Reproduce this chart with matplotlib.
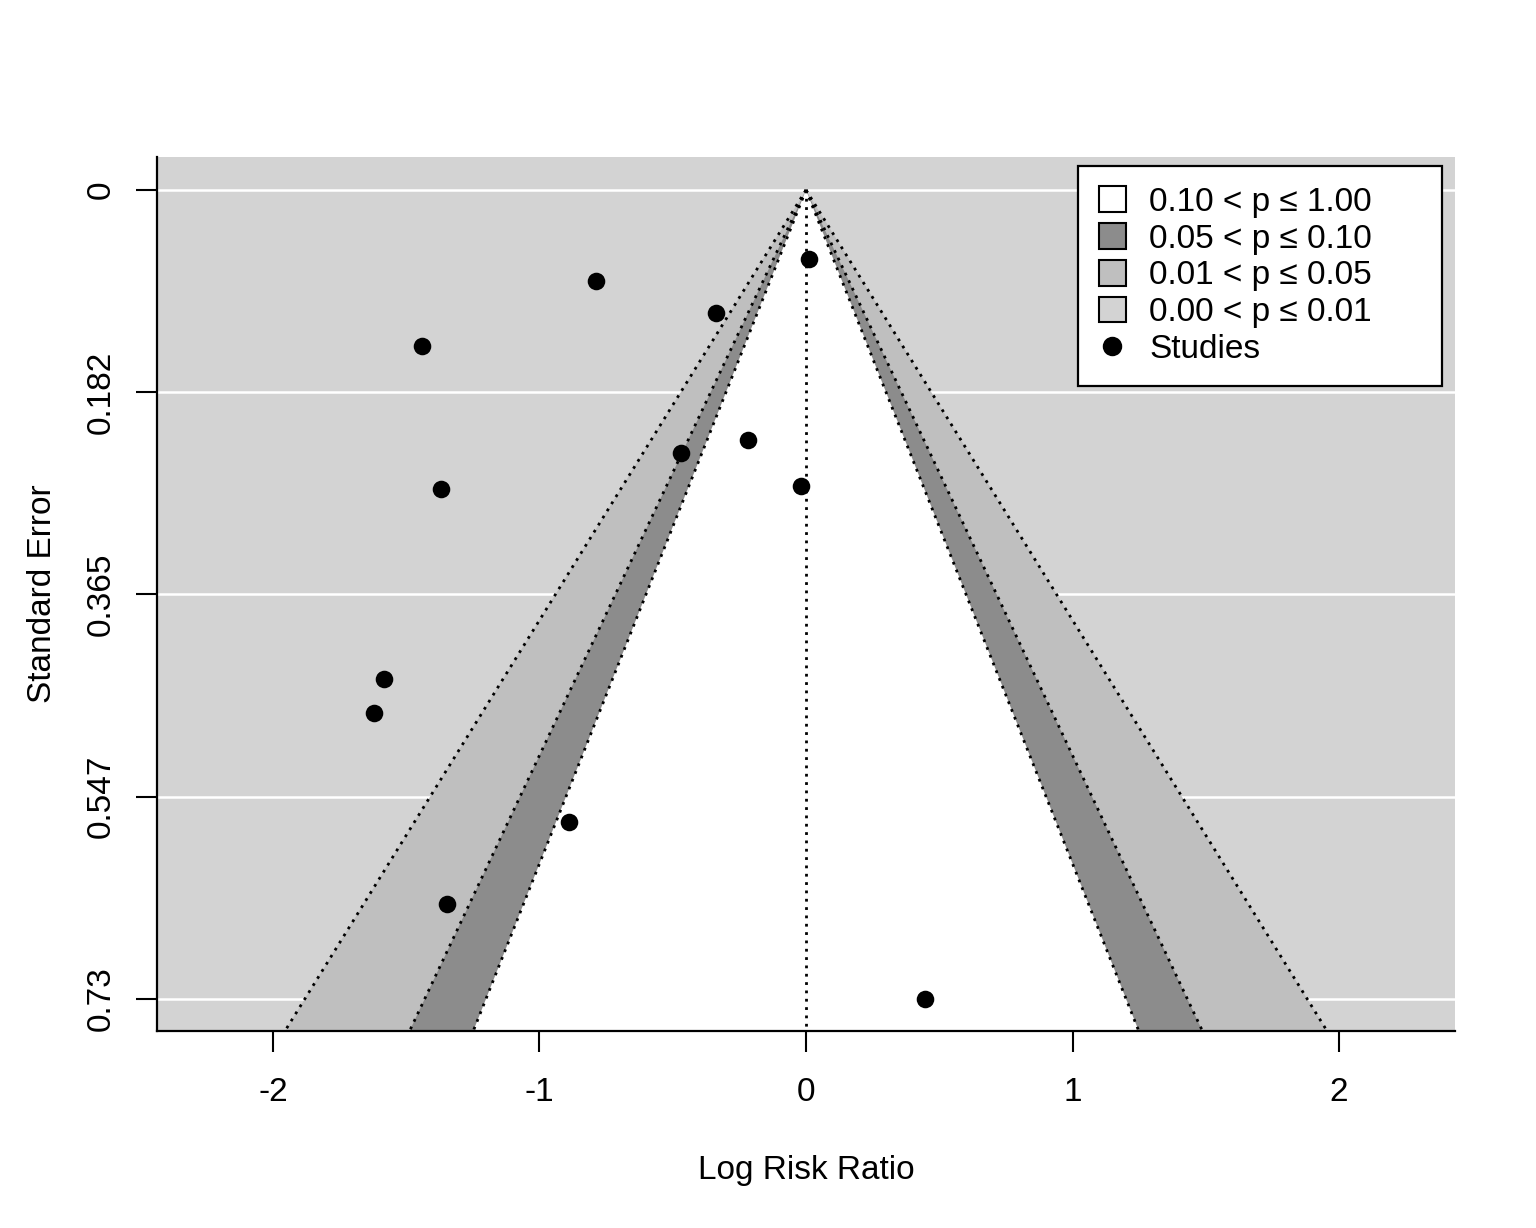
import numpy as np
import matplotlib
matplotlib.use("Agg")
import matplotlib.pyplot as plt
from matplotlib.patches import Patch, Polygon
from matplotlib.lines import Line2D

plt.rcParams['font.family'] = ['Liberation Sans', 'DejaVu Sans']

# ---- datos ----
yi = [0.011, -0.788, -0.338, -1.441, -0.218, -0.469, -1.370, -0.019,
      -1.583, -1.621, -0.889, -1.347, 0.447]
sei = [0.062, 0.082, 0.111, 0.141, 0.226, 0.237, 0.270, 0.267,
       0.441, 0.472, 0.570, 0.644, 0.730]
YTICKS = [0, 0.18245, 0.3649, 0.54735, 0.7298]
YTICKLABELS = ["0", "0.182", "0.365", "0.547", "0.73"]
XTICKS = [-2, -1, 0, 1, 2]
Z_LEVELS = [1.645, 1.96, 2.576]          # contornos p = .10, .05, .01
LEG_LABELS = ["0.10 < p \u2264 1.00", "0.05 < p \u2264 0.10",
              "0.01 < p \u2264 0.05", "0.00 < p \u2264 0.01", "Studies"]

# ---- colores estilo metafor ----
BACK = "#d3d3d3"       # lightgray
C_WHITE = "white"
C_90 = "#8c8c8c"       # gray55
C_95 = "#bfbfbf"       # gray75

XLIM = (-2.435, 2.435)
YLIM = (0.7589, -0.0298)

fig = plt.figure(figsize=(7.68, 6.14), dpi=200)
ax = fig.add_axes([0.1022, 0.1604, 0.8451, 0.7118])
ax.set_facecolor(BACK)
ax.set_xlim(*XLIM)
ax.set_ylim(*YLIM)

# lineas horizontales blancas (debajo de los contornos)
for t in YTICKS:
    ax.axhline(t, color="white", lw=0.9, zorder=1)

ybot = YLIM[0]
# poligonos: de afuera hacia adentro
for z, col in zip(reversed(Z_LEVELS), [C_95, C_90, C_WHITE]):
    poly = Polygon([(0, 0), (-z * ybot, ybot), (z * ybot, ybot)],
                   closed=True, facecolor=col, edgecolor="none", zorder=2)
    ax.add_patch(poly)

# lineas punteadas en cada borde de contorno
DOT = (0, (1, 2))
for z in Z_LEVELS:
    for s in (-1, 1):
        ax.plot([0, s * z * ybot], [0, ybot], color="black", lw=1.0,
                ls=DOT, zorder=3)
ax.plot([0, 0], [0, ybot], color="black", lw=1.0, ls=DOT, zorder=3)

ax.scatter(yi, sei, s=40, color="black", zorder=4, linewidths=0)

# ejes
for side in ("top", "right"):
    ax.spines[side].set_visible(False)
for side in ("left", "bottom"):
    ax.spines[side].set_linewidth(0.8)
ax.set_xticks(XTICKS)
ax.set_xticklabels([str(v) for v in XTICKS])
ax.set_yticks(YTICKS)
ax.set_yticklabels(YTICKLABELS, rotation=90, va="center")
ax.tick_params(axis="both", length=7.5, width=0.75, labelsize=12)
ax.tick_params(axis="x", pad=9)
ax.tick_params(axis="y", pad=7)
ax.set_xlabel("Log Risk Ratio", fontsize=12, labelpad=17)
ax.set_ylabel("Standard Error", fontsize=12, labelpad=10)

handles = [Patch(facecolor=C_WHITE, edgecolor="black", lw=0.75),
           Patch(facecolor=C_90, edgecolor="black", lw=0.75),
           Patch(facecolor=C_95, edgecolor="black", lw=0.75),
           Patch(facecolor=BACK, edgecolor="black", lw=0.75),
           Line2D([], [], marker="o", color="black", ls="none", markersize=6)]
leg = ax.legend(handles, LEG_LABELS, loc="upper left", mode="expand",
                bbox_to_anchor=(0.7096, 0.0, 0.2804, 0.99), fontsize=12,
                fancybox=False, framealpha=1, edgecolor="black",
                handlelength=0.81, handleheight=0.81, handletextpad=0.7,
                labelspacing=0.16, borderpad=0.62, borderaxespad=0)
leg.get_frame().set_linewidth(0.8)
leg.set_zorder(5)

fig.savefig("out.png", dpi=200)
